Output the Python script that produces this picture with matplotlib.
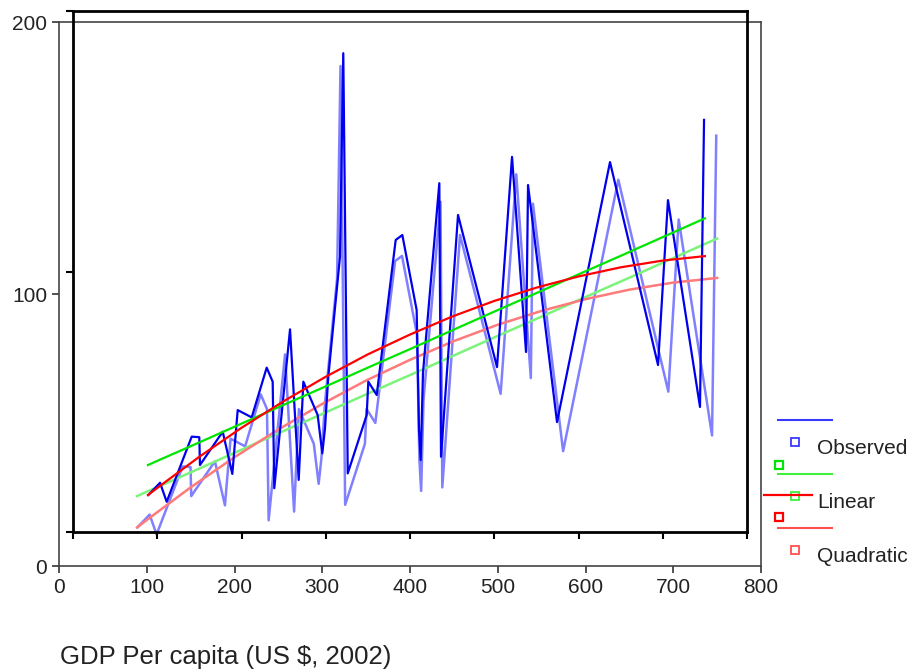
import numpy as np
import matplotlib.pyplot as plt
from matplotlib.lines import Line2D

plt.rcParams['font.family'] = ['Liberation Sans', 'DejaVu Sans']

# observed series (GDP per capita vs value)
obs_x = [89.4, 103.3, 111.2, 140.9, 149.9, 150.7, 177.7, 189.1, 195.5, 212.1,
         229.9, 237.0, 238.9, 257.6, 267.9, 273.4, 290.4, 295.9, 299.1, 303.0,
         316.9, 320.8, 326.1, 348.6, 350.5, 360.5, 383.0, 390.9, 407.9, 410.7,
         412.7, 415.4, 434.8, 436.8, 457.0, 503.3, 521.1, 537.7, 540.1, 574.5,
         637.4, 694.4, 706.2, 744.2, 749.0]
obs_y = [14.2, 18.9, 11.6, 36.6, 36.4, 25.7, 38.5, 22.3, 46.8, 44.0,
         63.1, 57.7, 16.8, 77.8, 20.0, 57.7, 44.9, 30.2, 39.8, 59.6,
         105.7, 183.8, 22.5, 44.9, 57.7, 52.6, 112.1, 114.0, 85.2, 39.2,
         27.6, 61.0, 133.9, 28.9, 121.7, 63.3, 144.0, 69.1, 133.2, 42.2,
         142.0, 64.1, 127.4, 48.0, 158.2]

# fitted curves
fit_x = [89, 100, 150, 200, 250, 300, 350, 400, 450, 500, 550, 600, 650, 700, 750]
linear_y = [25.7, 27.3, 34.4, 41.6, 48.8, 55.9, 63.1, 70.2, 77.4, 84.6, 91.7,
            98.9, 106.0, 113.2, 120.4]
quad_y = [14.2, 16.9, 28.9, 40.0, 50.2, 59.6, 68.2, 75.8, 82.7, 88.7, 93.8,
          98.1, 101.6, 104.2, 105.9]

W, H = 917, 672
fig = plt.figure(figsize=(W / 100, H / 100), dpi=100)


def fx(px):
    return px / W


def fy(py):
    return 1 - py / H


# outer (faded) copy of the chart
ax2 = fig.add_axes([fx(59), fy(566), fx(761) - fx(59), fy(22) - fy(566)])
ax2.set_facecolor('none')
ax2.plot(obs_x, obs_y, color='#6a6aff', lw=1.8, alpha=0.85)
ax2.plot(fit_x, linear_y, color='#7cf47c', lw=1.8)
ax2.plot(fit_x, quad_y, color='#ff7a7a', lw=1.8)
ax2.set_xlim(0, 800)
ax2.set_ylim(0, 200)
ax2.set_xticks(range(0, 801, 100))
ax2.set_yticks([0, 100, 200])
ax2.tick_params(labelsize=15, length=5, width=1.2, colors='#333333',
                labelcolor='#222222')
for s in ax2.spines.values():
    s.set_color('#444444')
    s.set_linewidth(1.2)

# inner copy drawn on top
ax = fig.add_axes([fx(73), fy(532), fx(747) - fx(73), fy(11) - fy(532)])
ax.set_facecolor('none')
ax.plot(obs_x, obs_y, color='#0000ee', lw=1.6)
ax.plot(fit_x, linear_y, color='#00e600', lw=1.6)
ax.plot(fit_x, quad_y, color='#ff0000', lw=1.6)
ax.set_xlim(0, 800)
ax.set_ylim(0, 200)
ax.set_xticks(range(0, 801, 100))
ax.set_yticks([0, 100, 200])
ax.tick_params(labelbottom=False, labelleft=False, length=5, width=1.5)
for s in ax.spines.values():
    s.set_color('black')
    s.set_linewidth(2)

fig.text(fx(60), fy(657), 'GDP Per capita (US $, 2002)', fontsize=18.5,
         ha='left', va='center', color='#222222')

# legend (drawn twice, like the chart)
labels = ['Observed', 'Linear', 'Quadratic']
light_cols = ['#3a3aff', '#3cf03c', '#ff5050']
for i, (lab, c) in enumerate(zip(labels, light_cols)):
    y0 = 420 + 54 * i
    fig.add_artist(Line2D([fx(778), fx(832)], [fy(y0), fy(y0)], color=c, lw=1.5))
    fig.add_artist(Line2D([fx(795)], [fy(y0 + 22)], marker='s', ms=6,
                          mfc='none', mec=c, mew=1.3))
    fig.text(fx(817), fy(y0 + 29), lab, fontsize=15, ha='left', va='center',
             color='#222222')

fig.add_artist(Line2D([fx(779)], [fy(465)], marker='s', ms=6, mfc='none',
                      mec='#00e600', mew=1.6))
fig.add_artist(Line2D([fx(764), fx(812)], [fy(495), fy(495)], color='#ff0000', lw=1.6))
fig.add_artist(Line2D([fx(779)], [fy(517)], marker='s', ms=6, mfc='none',
                      mec='#ff0000', mew=1.6))

fig.savefig('out.png', dpi=100)
